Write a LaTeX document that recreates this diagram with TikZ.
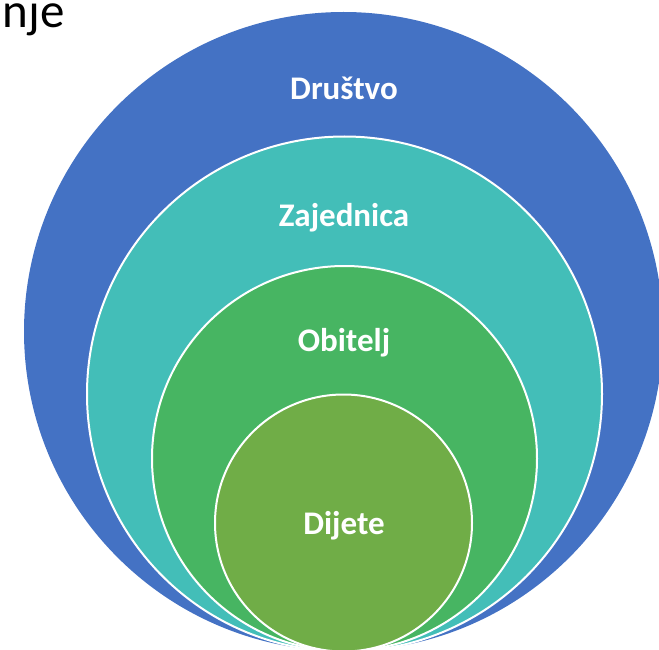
\documentclass[tikz,border=0pt]{standalone}
\usepackage{fontspec}
\setmainfont{Carlito}
\definecolor{cblue}{RGB}{68,114,196}
\definecolor{cteal}{RGB}{67,190,184}
\definecolor{cgreen}{RGB}{71,181,98}
\definecolor{clime}{RGB}{112,173,71}
\begin{document}
\begin{tikzpicture}[x=1pt,y=-1pt,
  ring/.style={circle,inner sep=0pt,outer sep=0pt},
  inring/.style={ring,draw=white,line width=2pt},
  lbl/.style={text=white,font=\bfseries\fontsize{33}{38}\selectfont,anchor=base,inner sep=0pt}]
\useasboundingbox (0,0) rectangle (659,650);
\clip (0,0) rectangle (659,650);
\node[ring,fill=cblue,minimum size=639pt] (drustvo) at (343.5,331.5) {};
\node[inring,fill=cteal,minimum size=515pt] (zajednica) at (344.5,394) {};
\node[inring,fill=cgreen,minimum size=385pt] (obitelj) at (344.5,458.5) {};
\node[inring,fill=clime,minimum size=257pt] (dijete) at (343.5,523) {};
\node[lbl] (tdrustvo) at (344,100) {Društvo};
\node[lbl] (tzajednica) at (344,226) {Zajednica};
\node[lbl] (tobitelj) at (344,351) {Obitelj};
\node[lbl] (tdijete) at (344,534) {Dijete};
\node[font=\fontsize{49}{58}\selectfont,anchor=base east,inner sep=0pt] (title) at (65,28) {nje};
\end{tikzpicture}
\end{document}
